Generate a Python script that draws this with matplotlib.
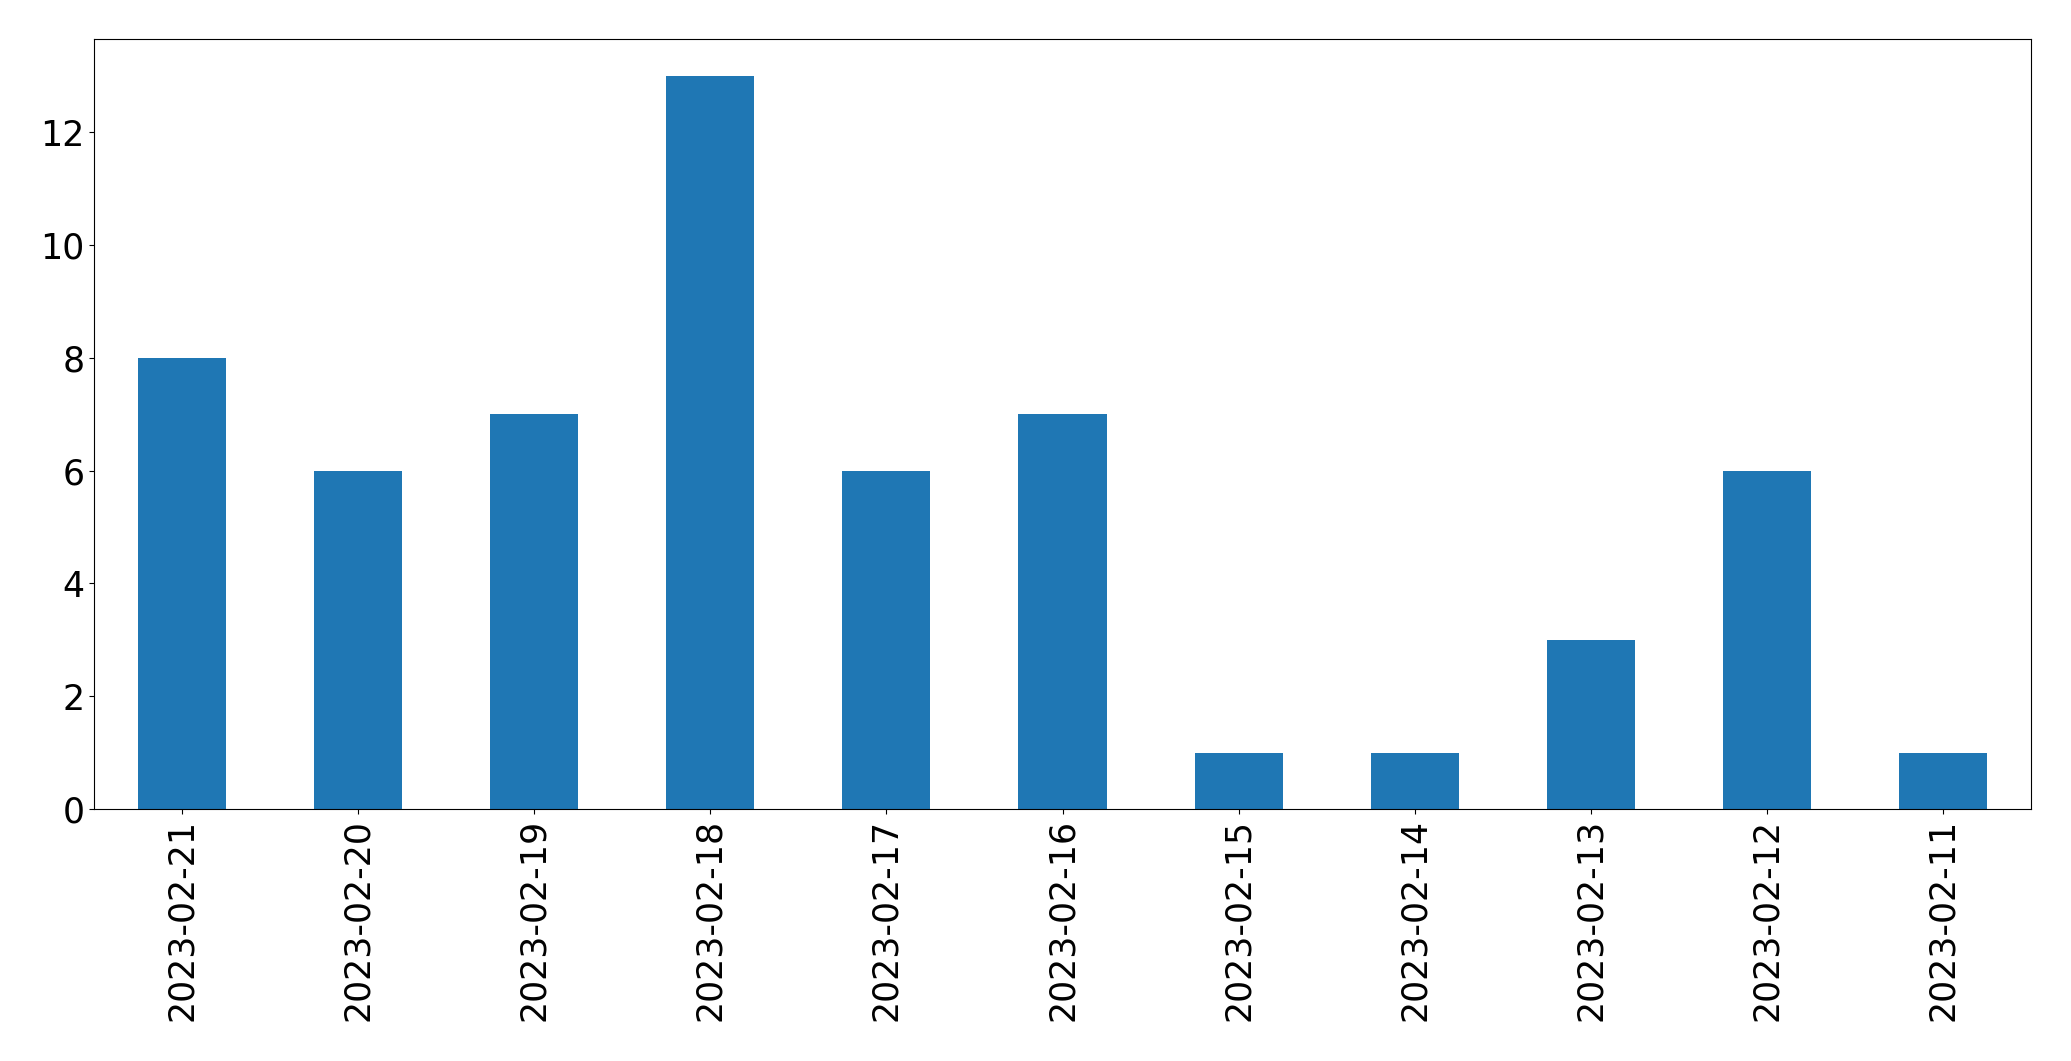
import matplotlib
matplotlib.use('Agg')
import matplotlib.pyplot as plt
import numpy as np

# Conteo diario (orden tal como aparece en la grafica)
fechas = ['2023-02-21', '2023-02-20', '2023-02-19', '2023-02-18', '2023-02-17',
          '2023-02-16', '2023-02-15', '2023-02-14', '2023-02-13', '2023-02-12',
          '2023-02-11']
conteos = [8, 6, 7, 13, 6, 7, 1, 1, 3, 6, 1]

figura = plt.figure(figsize=(20.71, 10.61), dpi=100)
eje = figura.add_axes([94 / 2071, 1 - 809 / 1061, (2031 - 94) / 2071, (809 - 39) / 1061])

posiciones = np.arange(len(fechas))
eje.bar(posiciones, conteos, width=0.5, color='#1f77b4')
eje.set_xlim(-0.5, len(fechas) - 0.5)
eje.set_xticks(posiciones)
eje.set_xticklabels(fechas, rotation=90)
eje.set_yticks(range(0, 13, 2))
eje.tick_params(axis='both', labelsize=25)

figura.savefig('out.png', dpi=100)
